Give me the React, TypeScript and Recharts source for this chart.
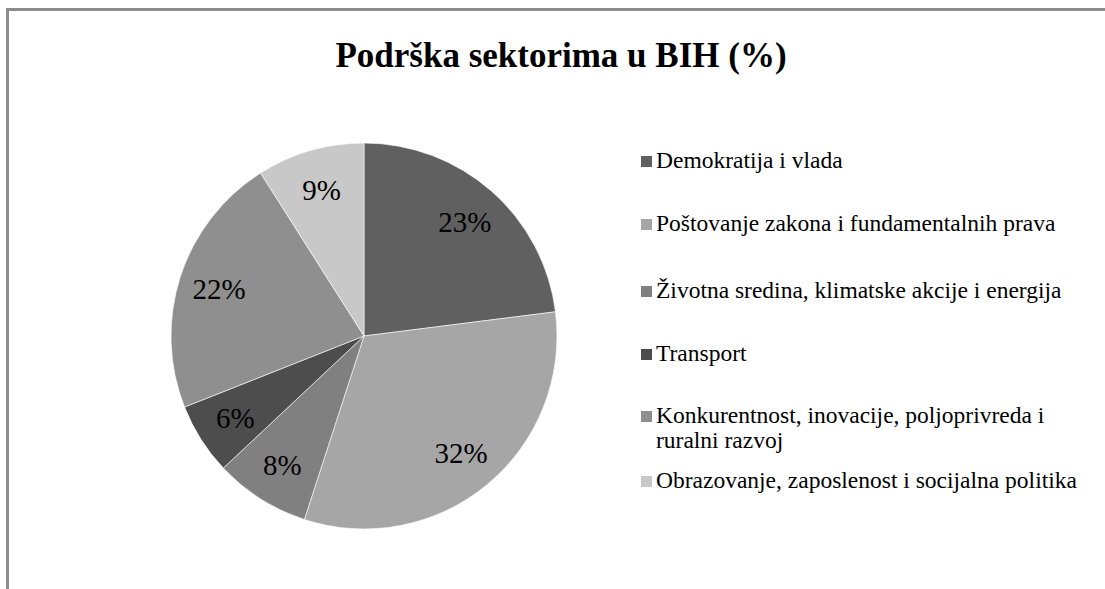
import { Cell, Legend, Pie, PieChart } from "recharts";

const sectors = [
  "Demokratija i vlada",
  "Poštovanje zakona i fundamentalnih prava",
  "Životna sredina, klimatske akcije i energija",
  "Transport",
  "Konkurentnost, inovacije, poljoprivreda i ruralni razvoj",
  "Obrazovanje, zaposlenost i socijalna politika",
];
const shares = [23, 32, 8, 6, 22, 9];
const fills = ["#606060", "#a6a6a6", "#808080", "#4d4d4d", "#8f8f8f", "#c8c8c8"];

const data = sectors.map((name, i) => ({ name, value: shares[i] }));

const serif = "'Liberation Serif', 'Times New Roman', serif";
const RAD = Math.PI / 180;
// spacing between legend rows (Excel spreads them out a bit unevenly)
const rowHeights = [63, 67, 63, 62, 65, 40];

function renderLabel(props: any) {
  const { cx, cy, midAngle, outerRadius, value } = props;
  const r = outerRadius * 0.79;
  const x = cx + r * Math.cos(-midAngle * RAD);
  const y = cy + r * Math.sin(-midAngle * RAD);
  return (
    <text
      x={x}
      y={y}
      textAnchor="middle"
      dominantBaseline="central"
      fontFamily={serif}
      fontSize={29}
      fill="#000"
    >
      {value}%
    </text>
  );
}

function renderLegend(props: any) {
  const items = [...(props.payload || [])].sort(
    (a: any, b: any) => sectors.indexOf(a.value) - sectors.indexOf(b.value)
  );
  return (
    <div style={{ fontFamily: serif, fontSize: 23.5, color: "#000" }}>
      {items.map((entry: any, i: number) => (
        <div
          key={entry.value}
          style={{
            display: "flex",
            alignItems: "flex-start",
            height: rowHeights[i],
            lineHeight: "25px",
          }}
        >
          <span
            style={{
              display: "inline-block",
              width: 11,
              height: 11,
              marginTop: 8,
              marginRight: 4,
              flex: "none",
              background: entry.color,
            }}
          />
          <span style={{ width: 442 }}>{entry.value}</span>
        </div>
      ))}
    </div>
  );
}

export default function App() {
  return (
    <div
      style={{
        position: "absolute",
        left: 0,
        top: 0,
        width: 1105,
        height: 589,
        background: "#fff",
        overflow: "hidden",
      }}
    >
      <div
        style={{
          position: "absolute",
          left: 6,
          top: 8,
          width: 1200,
          height: 700,
          borderLeft: "3px solid #8c8c8c",
          borderTop: "3px solid #8c8c8c",
        }}
      />
      <div
        style={{
          position: "absolute",
          left: 0,
          top: 34,
          width: 1122,
          textAlign: "center",
          fontFamily: serif,
          fontWeight: "bold",
          fontSize: 35,
          lineHeight: "44px",
          color: "#000",
        }}
      >
        Podrška sektorima u BIH (%)
      </div>
      <div style={{ position: "absolute", left: 0, top: 0 }}>
        <PieChart width={1105} height={589}>
          <Pie
            data={data}
            dataKey="value"
            nameKey="name"
            cx={359}
            cy={331}
            outerRadius={193}
            startAngle={90}
            endAngle={-270}
            stroke="#ffffff"
            strokeWidth={0.6}
            label={renderLabel}
            labelLine={false}
            isAnimationActive={false}
          >
            {data.map((d, i) => (
              <Cell key={d.name} fill={fills[i]} />
            ))}
          </Pie>
          <Legend
            layout="vertical"
            content={renderLegend}
            wrapperStyle={{ position: "absolute", left: 641, top: 148, width: 462 }}
          />
        </PieChart>
      </div>
    </div>
  );
}
